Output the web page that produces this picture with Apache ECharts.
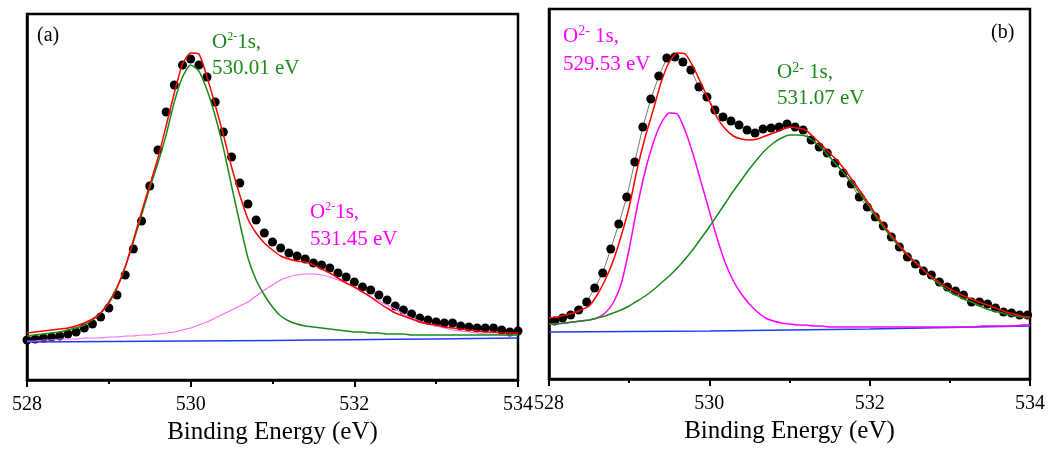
<!DOCTYPE html>
<html>
<head>
<meta charset="utf-8">
<script src="https://cdn.jsdelivr.net/npm/echarts@6/dist/echarts.min.js"></script>
<style>html,body{margin:0;background:#fff}#main{width:1049px;height:450px}</style>
</head>
<body>
<div id="main"></div>
<script>
// binding energy grid of the fitted curves (0.1 eV steps, 528 -> 534)
const energy = [];
for (let i = 0; i <= 60; i++) energy.push(+(528 + i * 0.1).toFixed(1));
// raw data energies of panel (b) are shifted a little
const energyRawB = [];
for (let i = 0; i < 60; i++) energyRawB.push(+(528.07 + i * 0.1).toFixed(2));
const baseEnergy = [528, 529, 530, 531, 532, 533, 534];
const xTicks = [528, 530, 532, 534];

// panel (a)
const rawA = [40,41,42,43,44,46,48,52,56,63, 72,85,105,131,159,194,230,268,295,315,
  321,315,303,278,248,223,197,176,160,147, 138,132,127,124,121,117,115,112,107,103,
  98,93,90,85,80,74,70,66,62,60, 58,57,57,54,53,52,52,52,50,48, 49];
const envelopeA = [47,48,49,50,51,52,54,57,61,67, 77,92,113,140,168,195,222,254,287,316,
  327,326,303,275,245,213,185,161,147,137, 130,124,121,119,118,115,111,107,102,97,
  93,88,83,77,72,67,64,61,58,56, 55,53,52,51,50,49,48,48,47,47, 47];
const peak530A = [44,45,46,47,48,50,52,55,60,67, 78,93,113,138,165,192,217,245,278,303,
  315,309,290,264,232,194,157,122,100,85, 73,64,59,56,54,53,52,51,50,49,
  48,48,47,47,46,46,46,45,45,45, 45,45,45,45,45,45,45,45,45,45, 45];
const peak531A = [39,39,40,40,41,41,41,42,42,42, 43,43,44,44,45,45,46,47,48,50,
  52,55,58,62,66,70,74,78,84,90, 95,100,103,105,106,106,105,103,100,97,
  93,88,83,79,75,71,66,62,59,56, 54,52,50,49,48,47,46,46,45,45, 45];
const baseA = [38, 38.5, 39, 39.5, 40.3, 41, 42];

// panel (b)
const rawB = [58,61,64,69,77,91,106,130,155,182, 217,252,280,303,321,322,317,309,292,282,
  269,262,258,254,249,246,250,251,252,255, 252,249,239,232,226,216,206,195,182,172,
  162,153,142,132,122,115,108,104,97,92, 88,84,77,77,75,71,67,66,64,64];
const envelopeB = [61,62,64,66,69,73,84,99,118,143, 172,210,242,269,297,317,326,325,312,295,
  278,261,250,243,240,239,240,243,246,249, 252,251,249,242,234,226,218,208,197,186,
  174,162,151,141,131,122,114,107,101,95, 90,86,82,79,76,73,70,67,65,63, 62];
const peak529B = [55,55,56,57,58,59,61,66,76,95, 130,172,208,236,256,266,265,248,224,196,
  168,140,116,98,85,75,67,61,58,56, 55,54,54,53,53,52,52,52,52,52,
  52,52,52,52,52,52,52,52,52,52, 52,52,52,52,53,53,53,53,53,54, 54];
const peak531B = [55,55.5,56,57,58,59,61,63,66,69, 73,78,83,89,96,103,111,120,130,141,
  152,164,176,188,199,210,220,229,236,241, 244,244,243,238,231,222,213,204,194,183,
  172,160,149,139,130,122,115,107,99,93, 87,83,79,76,72,69,67,65,63,62, 61];
const baseB = [47, 47.5, 48, 49, 50, 51.5, 53];

const serif = "'Liberation Serif', 'DejaVu Serif', serif";
const pairs = (xs, ys) => ys.map((y, i) => [xs[i], y]);

function xAxis(gridIndex, nameGap) {
  return {
    type: 'value', gridIndex, min: xTicks[0], max: xTicks[xTicks.length - 1], interval: 2,
    name: 'Binding Energy (eV)', nameLocation: 'middle', nameGap,
    nameTextStyle: { fontFamily: serif, fontSize: 25, color: '#000' },
    axisLine: { lineStyle: { color: '#000', width: 2.5 } },
    axisTick: { length: 7, lineStyle: { color: '#000', width: 2 } },
    minorTick: { show: true, splitNumber: 2, length: 4, lineStyle: { color: '#000', width: 2 } },
    axisLabel: { fontFamily: serif, fontSize: 20, color: '#000', margin: 15 },
    splitLine: { show: false }
  };
}
function yAxis(gridIndex, max) {
  return {
    type: 'value', gridIndex, min: 0, max,
    axisLine: { show: true, lineStyle: { color: '#000', width: 2.5 } },
    axisTick: { show: false }, axisLabel: { show: false }, splitLine: { show: false }
  };
}
function curve(idx, xs, ys, color, width) {
  return {
    type: 'line', xAxisIndex: idx, yAxisIndex: idx, data: pairs(xs, ys),
    showSymbol: false, smooth: 0.2, z: 3,
    lineStyle: { color, width }, silent: true
  };
}
function label(x, y, color, sup, rest, line2, supSize, lh) {
  return {
    type: 'text', left: x, top: y, z: 100,
    style: {
      text: '{m|O}{s|' + sup + '}{m|' + rest + '}\n{m|' + line2 + '}',
      rich: {
        m: { fontSize: 21, fontFamily: serif, fill: color, color, lineHeight: lh },
        s: { fontSize: supSize, fontFamily: serif, fill: color, color, verticalAlign: 'top', padding: [2, 0, 0, 0] }
      }
    }
  };
}

const green = '#1a8a1a', pink = '#ff00ff', red = '#ff0000', blue = '#1e3cff';

let options = {
  backgroundColor: '#fff',
  animation: false,
  grid: [
    { left: 27, right: 531, top: 14, bottom: 70, show: true, borderColor: '#000', borderWidth: 2.5 },
    { left: 549, right: 19, top: 9, bottom: 71, show: true, borderColor: '#000', borderWidth: 2.5 }
  ],
  xAxis: [xAxis(0, 40), xAxis(1, 37)],
  yAxis: [yAxis(0, 366), yAxis(1, 370)],
  series: [
    { type: 'scatter', xAxisIndex: 0, yAxisIndex: 0, data: pairs(energy, rawA),
      symbolSize: 9, itemStyle: { color: '#000', opacity: 1 }, z: 2 },
    curve(0, baseEnergy, baseA, blue, 1.5),
    curve(0, energy, peak531A, '#ff66ff', 1.1),
    curve(0, energy, peak530A, green, 1.5),
    curve(0, energy, envelopeA, red, 1.5),

    { type: 'line', xAxisIndex: 1, yAxisIndex: 1, data: pairs(energyRawB, rawB),
      symbol: 'circle', symbolSize: 9, itemStyle: { color: '#000', opacity: 1 },
      lineStyle: { color: '#777', width: 1 }, z: 2 },
    curve(1, baseEnergy, baseB, blue, 1.5),
    curve(1, energy, peak529B, pink, 1.5),
    curve(1, energy, peak531B, green, 1.5),
    curve(1, energy, envelopeB, red, 1.5)
  ],
  graphic: [
    { type: 'text', left: 37, top: 26, style: { text: '(a)', font: '20px ' + serif, fill: '#000' } },
    { type: 'text', left: 991, top: 23, style: { text: '(b)', font: '20px ' + serif, fill: '#000' } },
    label(212, 31, green, '2-', '1s,', '530.01 eV', 12, 26),
    label(310, 201, pink, '2-', '1s,', '531.45 eV', 12, 27),
    label(563, 24, pink, '2-', ' 1s,', '529.53 eV', 14, 28),
    label(777, 61, green, '2-', ' 1s,', '531.07 eV', 14, 26)
  ]
};

let myChart = echarts.init(document.getElementById('main'));
myChart.setOption(options);
</script>
</body>
</html>
